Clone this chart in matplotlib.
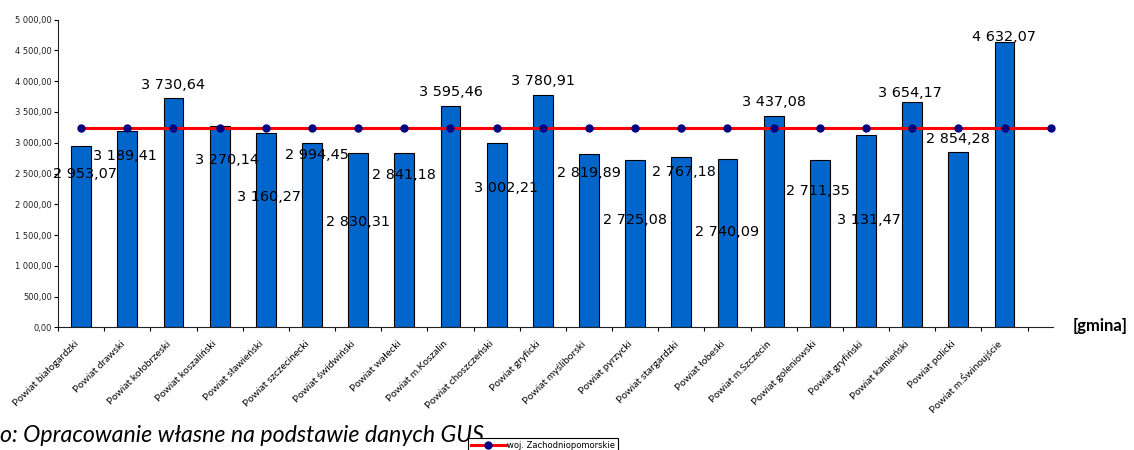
import numpy as np
import matplotlib
matplotlib.use('Agg')
import matplotlib.pyplot as plt
from matplotlib.transforms import ScaledTranslation
from matplotlib.ticker import FuncFormatter

# dane: przecietne wynagrodzenie wg powiatow (GUS)
powiaty = ['Powiat białogardzki', 'Powiat drawski', 'Powiat kołobrzeski',
           'Powiat koszaliński', 'Powiat sławieński', 'Powiat szczecinecki',
           'Powiat świdwiński', 'Powiat wałecki', 'Powiat m.Koszalin',
           'Powiat choszczeński', 'Powiat gryficki', 'Powiat myśliborski',
           'Powiat pyrzycki', 'Powiat stargardzki', 'Powiat łobeski',
           'Powiat m.Szczecin', 'Powiat goleniowski', 'Powiat gryfiński',
           'Powiat kamieński', 'Powiat policki', 'Powiat m.Świnoujście']
wartosci = [2953.07, 3189.41, 3730.64, 3270.14, 3160.27, 2994.45, 2830.31,
            2841.18, 3595.46, 3002.21, 3780.91, 2819.89, 2725.08, 2767.18,
            2740.09, 3437.08, 2711.35, 3131.47, 3654.17, 2854.28, 4632.07]
woj_nazwa = 'woj. Zachodniopomorskie'
woj = [3234.0] * 22          # linia wojewodztwa (22 punkty, ostatni bez slupka)

# polozenie etykiet wartosci (tak jak w excelu - rozrzucone)
etyk_y = [2529, 2817, 3975, 2756, 2150, 2828, 1744, 2513, 3857, 2301, 4035,
          2540, 1771, 2556, 1581, 3694, 2243, 1771, 3845, 3098, 4751]
etyk_dx = [4, -2, 0, 7, 3, 5, 0, 0, 0, 9, 0, 0, 0, 3, 0, 0, -2, 3, -2, 0, -1]


def pl_fmt(v):
    return '{:,.2f}'.format(v).replace(',', ' ').replace('.', ',')


W, H = 1134, 450
fig = plt.figure(figsize=(W / 100, H / 100), dpi=100)
ax = fig.add_axes([58 / W, 1 - 327.3 / H, (1053 - 58) / W, (327.3 - 19.7) / H])

x = np.arange(len(powiaty))
ax.bar(x, wartosci, width=0.43, color='#0066CC', edgecolor='black',
       linewidth=0.8, zorder=2)
linia, = ax.plot(np.arange(len(woj)), woj, color='#FF0000', lw=2.2,
                 marker='o', ms=5, mfc='#000080', mec='#000080',
                 zorder=3, clip_on=False)

for i, v in enumerate(wartosci):
    ax.annotate(pl_fmt(v), (i, etyk_y[i]), xytext=(etyk_dx[i] * 0.72, -1.5),
                textcoords='offset points', ha='center', va='center',
                fontsize=10.4, color='black', zorder=4)

ax.set_xlim(-0.5, 21.05)
ax.set_ylim(0, 5000)
ax.set_yticks(np.arange(0, 5001, 500))
ax.yaxis.set_major_formatter(FuncFormatter(lambda v, p: pl_fmt(v)))
ax.tick_params(axis='y', length=3, width=0.8, labelsize=6, pad=1.5,
               labelcolor='#222222')

ax.set_xticks(np.arange(-0.5, 21, 1))
ax.set_xticklabels([])
ax.set_xticks(x, minor=True)
ax.set_xticklabels(powiaty, minor=True, rotation=45, ha='right', va='center',
                   rotation_mode='anchor', fontsize=7.4, family='Lato')
ax.tick_params(axis='x', which='major', length=3, width=0.8)
ax.tick_params(axis='x', which='minor', length=0, pad=11)
przes = ScaledTranslation(-4 / 100, 0, fig.dpi_scale_trans)
for lab in ax.get_xticklabels(minor=True):
    lab.set_transform(lab.get_transform() + przes)

for s in ['top', 'right']:
    ax.spines[s].set_visible(False)
for s in ['left', 'bottom']:
    ax.spines[s].set_linewidth(0.8)
    ax.spines[s].set_color('#222222')

fig.text(1073 / W, 1 - 326 / H, '[gmina]', fontsize=12, fontweight='bold',
         family='Lato', ha='left', va='center')
fig.text(0, 1 - 441.7 / H, 'o: Opracowanie własne na podstawie danych GUS',
         fontsize=16.7, fontstyle='italic', family='Lato', ha='left',
         va='baseline')

leg = fig.legend([linia], [woj_nazwa], loc='upper left',
                 bbox_to_anchor=(468 / W, 1 - 438 / H), fontsize=6,
                 frameon=True, fancybox=False, edgecolor='black',
                 framealpha=1, borderpad=0.3, handlelength=4.2,
                 handletextpad=0.2, borderaxespad=0)
leg.get_frame().set_linewidth(0.8)

fig.savefig('out.png', dpi=100)
